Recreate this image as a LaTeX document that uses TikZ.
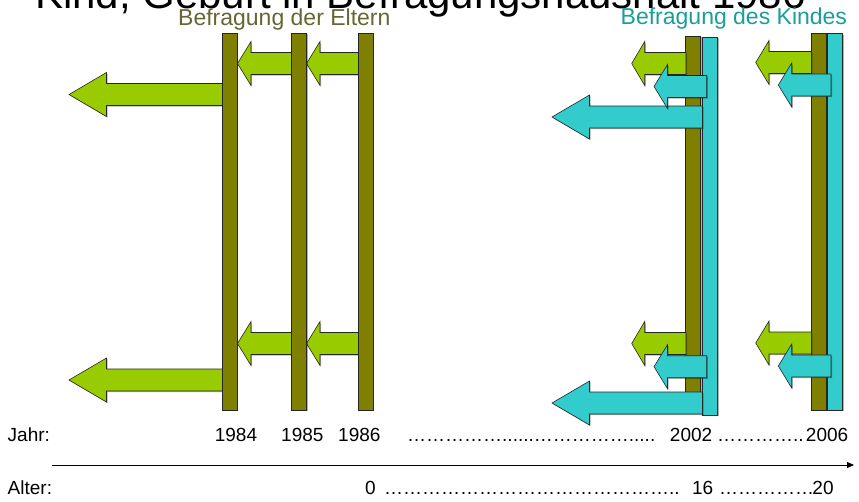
\documentclass[tikz,border=0pt]{standalone}
\usepackage{fontspec}
\setmainfont{Liberation Sans}
\usetikzlibrary{arrows.meta,shadows}

\definecolor{barolive}{RGB}{128,128,0}
\definecolor{arrowgreen}{RGB}{153,204,0}
\definecolor{childteal}{RGB}{51,204,204}
\definecolor{parenttext}{RGB}{102,102,51}
\definecolor{childtext}{RGB}{26,158,153}

% block arrow pointing left: style, tip x, centre y, tail x, head length
\newcommand\blockarrow[5]{%
  \path[#1] (#2,#3) -- ({#2+#5},{#3-22}) -- ({#2+#5},{#3-11}) -- (#4,{#3-11})
    -- (#4,{#3+11}) -- ({#2+#5},{#3+11}) -- ({#2+#5},{#3+22}) -- cycle;}
% vertical survey bar: style, left x, right x, top y, bottom y
\newcommand\surveybar[5]{\path[#1] (#2,#4) rectangle (#3,#5);}

\begin{document}
\begin{tikzpicture}[x=1pt,y=-1pt,
  edgeline/.style={draw=black!85,line width=0.6pt},
  softshadow/.style={drop shadow={shadow xshift=1.2pt,shadow yshift=-1.2pt,opacity=0.3,fill=black}},
  olivebar/.style={edgeline,fill=barolive,softshadow},
  tealbar/.style={edgeline,fill=childteal,softshadow},
  greenarrow/.style={edgeline,fill=arrowgreen,softshadow},
  tealarrow/.style={edgeline,fill=childteal,softshadow},
  axislabel/.style={anchor=base west,inner sep=0pt,font=\fontsize{19}{23}\selectfont},
  axisnum/.style={anchor=base east,inner sep=0pt,font=\fontsize{19}{23}\selectfont}]
\clip (0,0) rectangle (859,501);

% heading (its upper part lies outside the page)
\node[anchor=base west,inner sep=0pt,font=\fontsize{42}{50}\selectfont] (title) at (35,8)
  {Kind, Geburt in Befragungshaushalt 1986};
\node[anchor=base west,inner sep=0pt,font=\fontsize{23}{28}\selectfont,text=parenttext]
  (elternlabel) at (178,25.5) {Befragung der Eltern};
\node[anchor=base west,inner sep=0pt,font=\fontsize{23}{28}\selectfont,text=childtext]
  (kindlabel) at (620.5,24) {Befragung des Kindes};

% parent interviews 1984--1986
\blockarrow{greenarrow}{237.5}{63.5}{293}{13.5}
\blockarrow{greenarrow}{306.5}{63.5}{359.5}{13.5}
\blockarrow{greenarrow}{69}{94.5}{223}{37.5}
\blockarrow{greenarrow}{237.5}{343.5}{293}{13.5}
\blockarrow{greenarrow}{306.5}{343.5}{359.5}{13.5}
\blockarrow{greenarrow}{69}{380}{223}{37.5}
\surveybar{olivebar}{222.5}{237}{33}{410}
\surveybar{olivebar}{291.7}{306.5}{33}{410}
\surveybar{olivebar}{358.3}{373}{33}{410}

% wave 2002: parents and child
\surveybar{olivebar}{685.7}{700.7}{36}{410}
\surveybar{tealbar}{702.3}{717.3}{37}{415}
\blockarrow{greenarrow}{631.7}{63.5}{686}{13}
\blockarrow{tealarrow}{552}{117}{702.5}{37.5}
\blockarrow{tealarrow}{654}{86.5}{706.7}{13.5}
\blockarrow{greenarrow}{631.7}{343.5}{686}{13}
\blockarrow{tealarrow}{552}{403}{702.5}{37.5}
\blockarrow{tealarrow}{654}{366.7}{706.7}{13.5}

% wave 2006: parents and child
\surveybar{olivebar}{811}{826}{33.3}{410}
\surveybar{tealbar}{827.7}{842.3}{33.3}{410}
\blockarrow{greenarrow}{755.7}{62.5}{811.3}{13.3}
\blockarrow{tealarrow}{778.3}{85}{831}{13.4}
\blockarrow{greenarrow}{755.7}{343}{811.3}{13.3}
\blockarrow{tealarrow}{778.3}{366}{831}{13.4}

% year row
\node[axislabel] (jahr) at (7.5,441.7) {Jahr:};
\node[axisnum] (y1984) at (257.3,441.7) {1984};
\node[axisnum] (y1985) at (323.7,441.7) {1985};
\node[axisnum] (y1986) at (380.7,441.7) {1986};
\node[axislabel] (jdots1) at (407,441.7) {……………......…………….....};
\node[axisnum] (y2002) at (712.4,441.7) {2002};
\node[axislabel] (jdots2) at (717,441.7) {…………..};
\node[axisnum] (y2006) at (848.4,441.7) {2006};

% time axis
\coordinate (axstart) at (51.7,465);
\coordinate (axend) at (854,465);
\draw[line width=0.8pt,-{Triangle[length=7pt,width=6pt]}] (axstart) -- (axend);

% age row
\node[axislabel] (alter) at (7.5,494.5) {Alter:};
\node[axisnum] (a0) at (375.8,494.5) {0};
\node[axislabel] (adots1) at (384,494.5) {………………………………………..};
\node[axisnum] (a16) at (713.4,494.5) {16};
\node[axislabel] (adots2) at (719,494.5) {……………};
\node[axisnum] (a20) at (833.8,494.5) {20};
\end{tikzpicture}
\end{document}
